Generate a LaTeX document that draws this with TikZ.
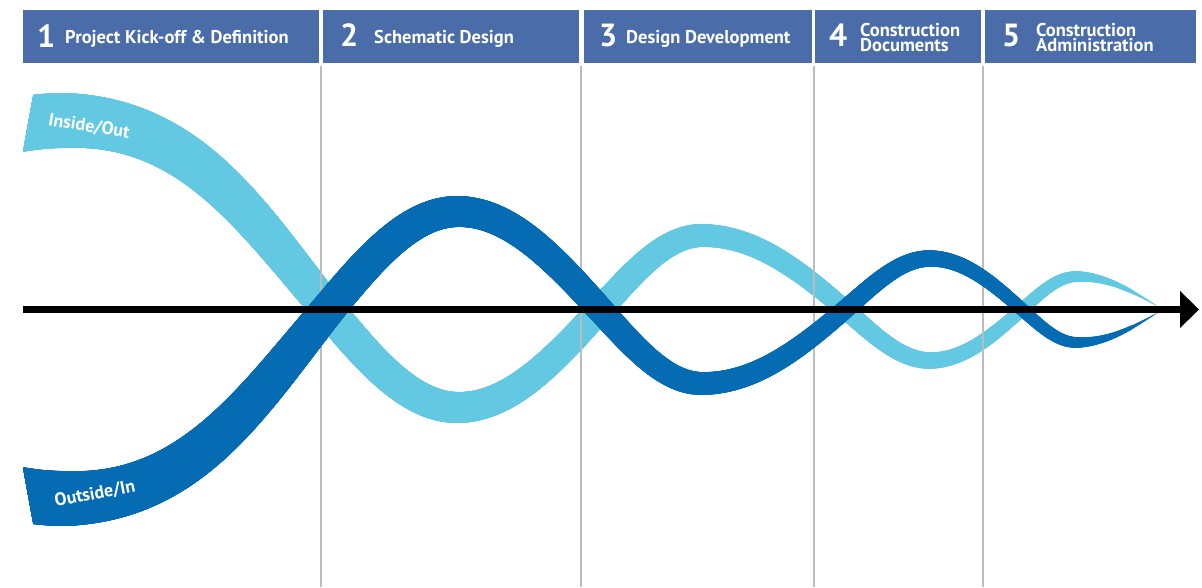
\documentclass[tikz,border=0pt]{standalone}
\usepackage{fontspec}
\setmainfont{PT Sans}
\usetikzlibrary{decorations.markings,arrows.meta}

\definecolor{hdrblue}{RGB}{74,109,170}
\definecolor{lightband}{RGB}{99,201,226}
\definecolor{darkband}{RGB}{5,108,180}
\definecolor{divider}{RGB}{188,188,192}

% half width of a ribbon as a function of the horizontal position #1
\newcommand\bandradius[1]{%
  \pgfmathsetmacro\bandr{#1<65 ? 27.5 :
    (#1<328 ? 27.5-(#1-65)*0.039924 :
    (#1<458 ? 17-(#1-328)*0.011538 :
    (#1<702 ? 15.5-(#1-458)*0.016393 :
    (#1<930 ? 11.5-(#1-702)*0.014254 :
    (#1<1077 ? 8.25-(#1-930)*0.018707 :
      max(0,5.5-(#1-1077)*0.063953))))))}}

\tikzset{
  band/.style={postaction={decorate},
    decoration={markings,
      mark=between positions 0 and 1 step 0.8pt with {%
        \pgfgettransformentries{\ta}{\tb}{\tc}{\td}{\tx}{\ty}%
        \bandradius{\tx}%
        \fill[#1] (0pt,0pt) circle[radius=\bandr pt];}}},
  hdrbox/.style={fill=hdrblue, draw=none, inner sep=0pt, minimum height=53pt},
  numtxt/.style={text=white, inner sep=0pt, anchor=base west,
    font=\fontsize{32}{32}\selectfont\bfseries},
  captxt/.style={text=white, inner sep=0pt, anchor=base west,
    font=\fontsize{18.5}{18.5}\selectfont\bfseries},
  captwo/.style={text=white, inner sep=0pt, anchor=north west, align=left,
    font=\fontsize{18.5}{15.5}\selectfont\bfseries},
  bandlabel/.style={text=white, inner sep=0pt,
    font=\fontsize{18}{18}\selectfont\bfseries},
  divline/.style={draw=divider, line width=2pt},
  axisline/.style={draw=black, line width=6.3pt, -{Triangle[length=19pt,width=36pt]}}
}

\begin{document}
\begin{tikzpicture}[x=1pt,y=1pt]
\useasboundingbox (0,-277.5) rectangle (1202,309.5);

% phase header bar
\node[hdrbox, minimum width=296pt] (box1) at (171,273) {};
\node[hdrbox, minimum width=256pt] (box2) at (451,273) {};
\node[hdrbox, minimum width=228pt] (box3) at (698,273) {};
\node[hdrbox, minimum width=166pt] (box4) at (898,273) {};
\node[hdrbox, minimum width=211pt] (box5) at (1090.5,273) {};

\node[numtxt] (num1) at (37,262) {1};
\node[captxt] (cap1) at (65,265.5) {Project Kick-off \& Definition};
\node[numtxt] (num2) at (340,262.5) {2};
\node[captxt] (cap2) at (374,265.5) {Schematic Design};
\node[numtxt] (num3) at (599,262.5) {3};
\node[captxt] (cap3) at (626,265.5) {Design Development};
\node[numtxt] (num4) at (829,262.5) {4};
\node[captwo] (cap4) at (860,286.5) {Construction\\Documents};
\node[numtxt] (num5) at (1002,262.5) {5};
\node[captwo] (cap5) at (1036,286.5) {Construction\\Administration};

% Inside/Out ribbon
\begin{scope}
\clip (41.6,260) -- (-60,-300) -- (1300,-300) -- (1300,260) -- cycle;
\path[band=lightband] (5,182) .. controls (25,186.5) and (45,189) .. (65,189)
  .. controls (190,189) and (250,95) .. (328,0)
  .. controls (371.4,-53) and (411.2,-98) .. (458,-98)
  .. controls (509.1,-98) and (552.6,-52.6) .. (600,0)
  .. controls (634.1,37.8) and (665.3,74) .. (702,74)
  .. controls (753.5,74) and (797.2,41.6) .. (845,0)
  .. controls (873.4,-24.7) and (899.4,-51) .. (930,-51)
  .. controls (963.1,-51) and (991.3,-27.6) .. (1022,0)
  .. controls (1040.4,16.5) and (1057.2,33) .. (1077,33)
  .. controls (1108,33) and (1134.3,17.2) .. (1163,0);
\end{scope}
\node[bandlabel, rotate=-9] (inlabel) at (89,183) {Inside/Out};

% phase dividers
\foreach \dx/\nm in {321/d1, 581/d2, 814/d3, 983/d4} {
  \coordinate (\nm top) at (\dx,243.5);
  \coordinate (\nm bot) at (\dx,-277.5);
  \draw[divline] (\nm top) -- (\nm bot);
}

% Outside/In ribbon
\begin{scope}
\clip (41.6,-260) -- (-60,300) -- (1300,300) -- (1300,-260) -- cycle;
\path[band=darkband] (5,-182) .. controls (25,-186.5) and (45,-189) .. (65,-189)
  .. controls (190,-189) and (250,-95) .. (328,0)
  .. controls (371.4,53) and (411.2,98) .. (458,98)
  .. controls (509.1,98) and (552.6,52.6) .. (600,0)
  .. controls (634.1,-37.8) and (665.3,-74) .. (702,-74)
  .. controls (753.5,-74) and (797.2,-41.6) .. (845,0)
  .. controls (873.4,24.7) and (899.4,51) .. (930,51)
  .. controls (963.1,51) and (991.3,27.6) .. (1022,0)
  .. controls (1040.4,-16.5) and (1057.2,-33) .. (1077,-33)
  .. controls (1108,-33) and (1134.3,-17.2) .. (1163,0);
\end{scope}
\node[bandlabel, rotate=11] (outlabel) at (95,-184.5) {Outside/In};

% time axis
\coordinate (axisstart) at (23,0);
\coordinate (axisend) at (1199,0);
\draw[axisline] (axisstart) -- (axisend);
\end{tikzpicture}
\end{document}
